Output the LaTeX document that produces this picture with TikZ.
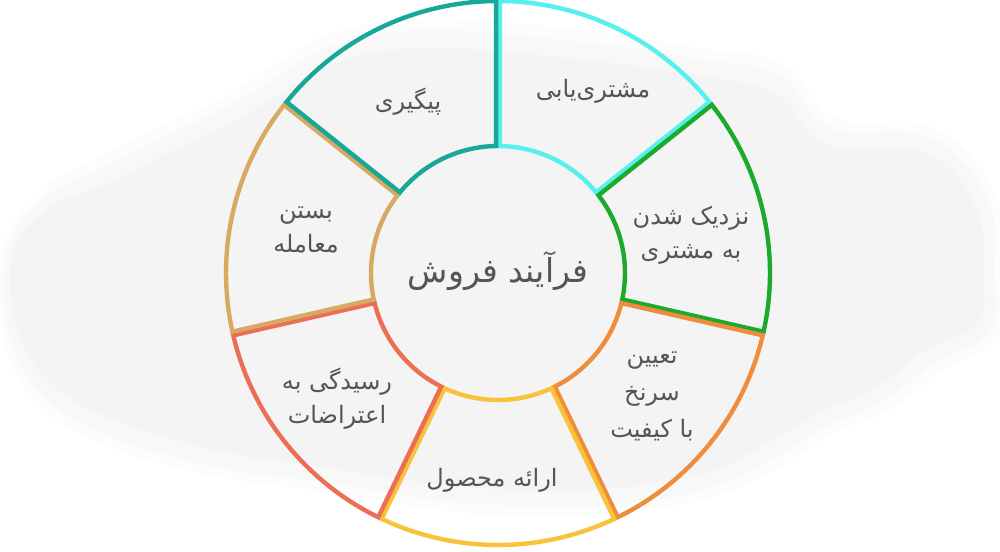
\documentclass[tikz,border=0pt]{standalone}
\usepackage{fontspec}
\newfontfamily\arabicfont[Script=Arabic]{DejaVu Sans}
\TeXXeTstate=1
\newcommand{\rtltext}[1]{\beginR#1\endR}
\definecolor{cyanc}{HTML}{58F0EE}
\definecolor{greenc}{HTML}{1DAA2C}
\definecolor{orangec}{HTML}{EE8E3C}
\definecolor{yellowc}{HTML}{F8C23A}
\definecolor{redc}{HTML}{EB6E55}
\definecolor{tanc}{HTML}{D7A962}
\definecolor{tealc}{HTML}{19A897}
\definecolor{txtc}{HTML}{555555}
\definecolor{blobc}{HTML}{F4F4F4}
\definecolor{blobm}{HTML}{F8F8F8}
\definecolor{blobl}{HTML}{FCFCFC}
\tikzset{
  seg/.style={line width=4.4pt},
  lbl/.style={font=\arabicfont\fontsize{24}{34}\selectfont, text=txtc, align=center, inner sep=0pt},
  ttl/.style={font=\arabicfont\fontsize{33}{40}\selectfont, text=txtc, inner sep=0pt}
}
\begin{document}
\begin{tikzpicture}[x=1pt,y=1pt]
\useasboundingbox (0,0) rectangle (1000,-551);
\fill[white] (0,0) rectangle (1000,-551);
% soft background blob
\fill[blobl] plot[smooth cycle, tension=0.7] coordinates {
 (0,-290) (8,-235) (40,-190) (95,-160) (165,-125) (228,-95) (275,-65) (335,-32) (420,-18) (500,-22) (600,-32) (700,-48) (785,-65) (835,-118) (935,-128) (995,-195) (1000,-270) (997,-335) (940,-372) (885,-412) (835,-432) (770,-472) (700,-500) (600,-515) (500,-515) (420,-507) (330,-492) (250,-482) (175,-467) (105,-445) (45,-410) (8,-355)};
\fill[blobm] plot[smooth cycle, tension=0.7] coordinates {
 (4,-290) (12,-238) (45,-197) (99,-170) (168,-135) (231,-105) (278,-76) (338,-44) (420,-30) (500,-34) (600,-44) (700,-59) (781,-76) (831,-128) (931,-138) (988,-200) (994,-270) (990,-330) (935,-363) (880,-403) (832,-423) (767,-462) (700,-491) (600,-505) (500,-505) (420,-498) (330,-483) (250,-473) (178,-458) (109,-436) (50,-402) (14,-351)};
\fill[blobc] plot[smooth cycle, tension=0.7] coordinates {
 (10,-290) (18,-242) (52,-206) (106,-184) (174,-150) (237,-120) (284,-92) (344,-60) (420,-48) (500,-52) (600,-62) (700,-76) (776,-94) (826,-144) (926,-154) (976,-208) (983,-270) (978,-322) (926,-350) (872,-390) (826,-409) (762,-446) (700,-475) (600,-489) (500,-489) (420,-482) (330,-468) (250,-457) (184,-442) (116,-421) (59,-390) (24,-346)};
\coordinate (C) at (498,-273);
\def\Ro{272}
\def\Ri{127}
\foreach \a/\col in {90/cyanc, 38.5714/greenc, -12.8571/orangec, -64.2857/yellowc, -115.7143/redc, -167.1429/tanc, -218.5714/tealc} {
  \pgfmathsetmacro\b{\a-51.4286}
  \pgfmathsetmacro\ai{\a-0.85}
  \pgfmathsetmacro\ao{\a-0.4}
  \pgfmathsetmacro\bi{\b+0.85}
  \pgfmathsetmacro\bo{\b+0.4}
  \draw[seg, draw=\col] ([shift={(\ai:\Ri)}]C) -- ([shift={(\ao:\Ro)}]C)
     arc[start angle=\ao, end angle=\bo, radius=\Ro]
     -- ([shift={(\bi:\Ri)}]C)
     arc[start angle=\bi, end angle=\ai, radius=\Ri] -- cycle;
}
\node[ttl] (title) at (498,-271) {\rtltext{فرآیند فروش}};
\node[lbl] (s1) at (593,-91) {\rtltext{مشتری‌یابی}};
\node[lbl] (s2) at (691,-235) {\rtltext{نزدیک شدن}\\\rtltext{به مشتری}};
\node[lbl, font=\arabicfont\fontsize{24}{37}\selectfont] (s3) at (652,-396) {\rtltext{تعیین}\\\rtltext{سرنخ}\\\rtltext{با کیفیت}};
\node[lbl] (s4) at (492,-480) {\rtltext{ارائه محصول}};
\node[lbl] (s5) at (337,-399) {\rtltext{رسیدگی به}\\\rtltext{اعتراضات}};
\node[lbl] (s6) at (306,-230) {\rtltext{بستن}\\\rtltext{معامله}};
\node[lbl] (s7) at (408,-102) {\rtltext{پیگیری}};
\end{tikzpicture}
\end{document}
